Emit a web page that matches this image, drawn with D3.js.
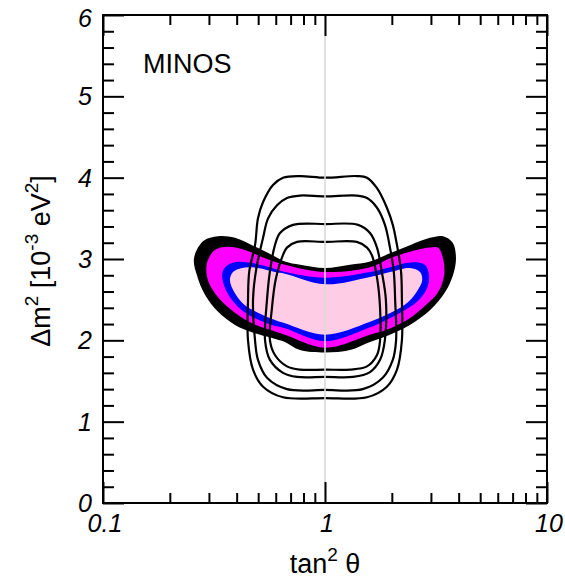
<!DOCTYPE html>
<html>
<head>
<meta charset="utf-8">
<script src="https://cdn.jsdelivr.net/npm/d3@7"></script>
<style>
  body { margin: 0; background: #fff; }
  text { font-family: "Liberation Sans", Arial, sans-serif; }
</style>
</head>
<body>
<svg id="chart" width="565" height="579"></svg>
<script>
// allowed regions, points are [tan^2 theta, dm^2 (1e-3 eV^2)]
var black99 = [[0.257,3.01],[0.283,3.22],[0.330,3.28],[0.393,3.26],[0.469,3.17],[0.577,3.05],[0.660,2.97],[0.772,2.93],[1,2.89],
  [1.296,2.93],[1.595,2.97],[1.962,3.07],[2.413,3.17],[2.97,3.26],[3.40,3.28],[3.76,3.20],[3.89,3.01],[3.77,2.80],[3.47,2.59],
  [2.97,2.37],[2.41,2.19],[1.96,2.07],[1.595,1.98],[1.296,1.88],[1,1.85],[0.772,1.88],[0.660,1.98],[0.577,2.03],[0.469,2.10],
  [0.393,2.19],[0.330,2.35],[0.288,2.56],[0.265,2.80]];
var magenta90 = [[0.294,2.95],[0.319,3.11],[0.366,3.15],[0.436,3.11],[0.537,3.01],[0.660,2.93],[1,2.84],[1.595,2.90],[1.962,3.01],
  [2.413,3.09],[2.97,3.14],[3.23,3.14],[3.40,3.01],[3.44,2.80],[3.23,2.59],[2.76,2.40],[2.34,2.25],[1.90,2.13],[1.595,2.07],
  [1,1.91],[0.660,2.07],[0.577,2.12],[0.469,2.21],[0.393,2.34],[0.330,2.53],[0.297,2.74]];
var blue68 = [[0.344,2.80],[0.355,2.90],[0.393,2.96],[0.469,2.95],[0.577,2.89],[0.660,2.84],[1,2.77],[1.595,2.84],[1.962,2.90],
  [2.49,2.96],[2.82,2.93],[2.94,2.80],[2.88,2.64],[2.59,2.47],[2.18,2.34],[1.82,2.23],[1.595,2.16],[1,1.99],[0.660,2.15],
  [0.577,2.19],[0.469,2.29],[0.406,2.41],[0.362,2.59]];
var pinkCore = [[0.373,2.74],[0.385,2.84],[0.423,2.89],[0.499,2.89],[0.595,2.84],[0.660,2.82],[1,2.69],[1.595,2.78],[1.962,2.84],
  [2.41,2.89],[2.68,2.84],[2.74,2.74],[2.62,2.62],[2.37,2.47],[2.02,2.35],[1.595,2.23],[1,2.07],[0.660,2.21],[0.595,2.25],
  [0.499,2.34],[0.436,2.43],[0.393,2.58]];
var bands = [black99, magenta90, blue68, pinkCore];
var bandColors = ["#000000", "#ff00ff", "#0000ff", "#ffcce6"];

// line contours
var contourA = [[1,4.00],[1.39,4.02],[1.546,4.00],[1.715,3.87],[1.90,3.63],[2.02,3.42],[2.11,3.17],[2.20,2.85],[2.22,2.50],[2.22,2.00],
  [2.11,1.64],[1.90,1.43],[1.546,1.30],[1,1.29],[0.647,1.30],[0.526,1.43],[0.474,1.64],[0.450,2.00],[0.450,2.50],[0.456,2.85],
  [0.484,3.17],[0.499,3.50],[0.526,3.70],[0.583,3.91],[0.647,4.00],[0.772,4.02]];
var contourB = [[1,3.77],[1.39,3.78],[1.546,3.75],[1.715,3.63],[1.862,3.42],[1.962,3.14],[2.04,2.85],[2.07,2.50],[2.09,2.00],
  [2.02,1.76],[1.82,1.54],[1.48,1.40],[1,1.39],[0.674,1.40],[0.548,1.54],[0.499,1.76],[0.484,2.00],[0.474,2.50],[0.489,2.86],
  [0.526,3.26],[0.554,3.50],[0.608,3.66],[0.674,3.75],[0.772,3.78]];
var contourC = [[1,3.43],[1.41,3.42],[1.595,3.32],[1.715,3.14],[1.80,2.85],[1.88,2.50],[1.86,2.00],[1.77,1.76],[1.595,1.61],
  [1.337,1.55],[1,1.55],[0.748,1.55],[0.647,1.60],[0.565,1.76],[0.537,2.00],[0.548,2.50],[0.565,2.85],[0.595,3.17],[0.627,3.32],[0.718,3.42]];
var contourD = [[1,3.21],[1.39,3.21],[1.546,3.14],[1.63,3.04],[1.72,2.75],[1.77,2.40],[1.77,2.00],[1.715,1.82],[1.546,1.68],
  [1.296,1.64],[1,1.64],[0.772,1.64],[0.674,1.68],[0.595,1.82],[0.565,2.00],[0.577,2.40],[0.600,2.75],[0.647,3.05],[0.674,3.14],[0.748,3.21]];
var lineContours = [contourA, contourB, contourC, contourD];

var xMajor = [0.1, 1, 10];
var xMinor = [0.2,0.3,0.4,0.5,0.6,0.7,0.8,0.9,2,3,4,5,6,7,8,9];
var yMajor = [0, 1, 2, 3, 4, 5, 6];
var yMinor = [0.2,0.4,0.6,0.8,1.2,1.4,1.6,1.8,2.2,2.4,2.6,2.8,3.2,3.4,3.6,3.8,4.2,4.4,4.6,4.8,5.2,5.4,5.6,5.8];

var svg = d3.select("#chart");
var pLeft = 103, pRight = 547, pTop = 15, pBottom = 503;

var x = d3.scaleLog().domain([0.1, 10]).range([pLeft, pRight]);
var y = d3.scaleLinear().domain([0, 6]).range([pBottom, pTop]);

var path = d3.line()
  .x(function(d) { return x(d[0]); })
  .y(function(d) { return y(d[1]); })
  .curve(d3.curveCatmullRomClosed.alpha(0.5));

bands.forEach(function(b, i) {
  svg.append("path").attr("d", path(b)).attr("fill", bandColors[i]).attr("stroke", "none");
});

lineContours.forEach(function(c) {
  svg.append("path").attr("d", path(c)).attr("fill", "none")
    .attr("stroke", "#000").attr("stroke-width", 2.2);
});

// tan^2 = 1 guide
svg.append("line")
  .attr("x1", x(1)).attr("x2", x(1)).attr("y1", y(6)).attr("y2", y(0))
  .attr("stroke", "#d9d9d9").attr("stroke-width", 1.6);

function ticks(axis, vals, size, tr) {
  var g = svg.append("g").attr("transform", tr)
    .call(axis.tickValues(vals).tickSize(size).tickFormat(""));
  g.select(".domain").remove();
  g.selectAll(".tick line").attr("stroke-width", 2).attr("stroke", "#000");
}
ticks(d3.axisBottom(x), xMinor, -10, "translate(0," + pBottom + ")");
ticks(d3.axisBottom(x), xMajor, -21, "translate(0," + pBottom + ")");
ticks(d3.axisTop(x), xMinor, -10, "translate(0," + pTop + ")");
ticks(d3.axisTop(x), xMajor, -21, "translate(0," + pTop + ")");
ticks(d3.axisLeft(y), yMinor, -11, "translate(" + pLeft + ",0)");
ticks(d3.axisLeft(y), yMajor, -21, "translate(" + pLeft + ",0)");
ticks(d3.axisRight(y), yMinor, -11, "translate(" + pRight + ",0)");
ticks(d3.axisRight(y), yMajor, -21, "translate(" + pRight + ",0)");

svg.append("rect")
  .attr("x", pLeft).attr("y", pTop).attr("width", pRight - pLeft).attr("height", pBottom - pTop)
  .attr("fill", "none").attr("stroke", "#000").attr("stroke-width", 2);

// tick labels
svg.selectAll(".ylab").data(yMajor).enter().append("text")
  .attr("x", pLeft - 11).attr("y", function(d) { return y(d) + (d === 6 ? 3 : 0); })
  .attr("dy", "0.36em").attr("text-anchor", "end")
  .attr("font-size", 25).attr("font-style", "italic")
  .text(function(d) { return d; });

svg.selectAll(".xlab").data(xMajor).enter().append("text")
  .attr("x", function(d) { return x(d) + 2; }).attr("y", 532)
  .attr("text-anchor", "middle")
  .attr("font-size", 25).attr("font-style", "italic")
  .text(function(d) { return d; });

svg.append("text").attr("x", 143).attr("y", 73)
  .attr("font-size", 27).text("MINOS");

// axis titles
var xt = svg.append("text").attr("x", 325).attr("y", 573)
  .attr("text-anchor", "middle").attr("font-size", 27);
xt.append("tspan").text("tan");
xt.append("tspan").attr("dy", -12).attr("font-size", 19).text("2");
xt.append("tspan").attr("dy", 12).text("\u00a0\u03b8");

var yt = svg.append("text").attr("transform", "translate(50,261) rotate(-90)")
  .attr("text-anchor", "middle").attr("font-size", 27);
yt.append("tspan").text("\u0394m");
yt.append("tspan").attr("dy", -12).attr("font-size", 19).text("2");
yt.append("tspan").attr("dy", 12).text(" [10");
yt.append("tspan").attr("dy", -12).attr("font-size", 19).text("-3");
yt.append("tspan").attr("dy", 12).text(" eV");
yt.append("tspan").attr("dy", -12).attr("font-size", 19).text("2");
yt.append("tspan").attr("dy", 12).text("]");
</script>
</body>
</html>
